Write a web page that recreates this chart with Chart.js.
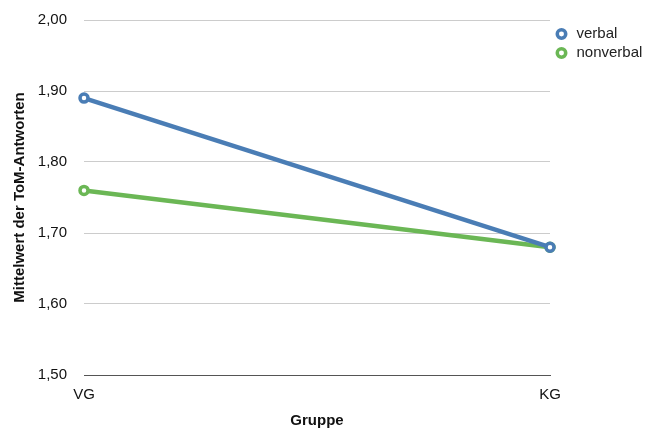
<!DOCTYPE html>
<html>
<head>
<meta charset="utf-8">
<script src="https://cdn.jsdelivr.net/npm/chart.js@4"></script>
<style>
    html, body { margin: 0; padding: 0; background: #ffffff; }
    #wrap { width: 650px; height: 428px; position: relative; }
</style>
</head>
<body>
<div id="wrap"><canvas id="chart"></canvas></div>
<script>
    // ---- data ----
    const groups = ['VG', 'KG'];
    const verbalValues = [1.89, 1.68];
    const nonverbalValues = [1.76, 1.68];
    const yTicks = [1.5, 1.6, 1.7, 1.8, 1.9, 2.0];

    const BLUE = '#4a7db5';
    const GREEN = '#6bb755';

    Chart.defaults.font.family = '"Liberation Sans", Arial, sans-serif';
    Chart.defaults.color = '#111';

    function lineSet(label, values, color) {
        return {
            label: label,
            data: values,
            borderColor: color,
            backgroundColor: '#ffffff',
            borderWidth: 4.5,
            pointRadius: 4,
            pointBorderWidth: 3.5,
            pointBackgroundColor: '#ffffff',
            pointBorderColor: color
        };
    }

    new Chart(document.getElementById('chart'), {
        type: 'line',
        data: {
            labels: groups,
            datasets: [
                lineSet('verbal', verbalValues, BLUE),
                lineSet('nonverbal', nonverbalValues, GREEN)
            ]
        },
        options: {
            responsive: true,
            maintainAspectRatio: false,
            animation: false,
            layout: { padding: { top: 20, right: 0, bottom: 0, left: 11 } },
            plugins: {
                legend: {
                    position: 'right',
                    align: 'start',
                    maxWidth: 100,
                    // empty title only used as a small top spacer
                    title: { display: true, text: '', font: { size: 2.5, lineHeight: 1 }, padding: 0 },
                    labels: {
                        usePointStyle: true,
                        pointStyle: 'circle',
                        boxWidth: 15,
                        boxHeight: 6,
                        padding: 4,
                        font: { size: 15 },
                        color: '#222'
                    }
                },
                tooltip: { enabled: false }
            },
            scales: {
                x: {
                    offset: false,
                    grid: { display: false, drawTicks: false },
                    border: { display: true, color: '#555', width: 1 },
                    ticks: { font: { size: 15 }, padding: 11 },
                    title: {
                        display: true,
                        text: 'Gruppe',
                        font: { size: 15, weight: 'bold', lineHeight: 1 },
                        padding: { top: 9, bottom: 0 }
                    },
                    afterFit: (scale) => { scale.height = 53; }
                },
                y: {
                    min: 1.5,
                    max: 2.0,
                    afterBuildTicks: (axis) => {
                        axis.ticks = yTicks.map(v => ({ value: v }));
                    },
                    grid: { color: '#cccccc', drawTicks: false },
                    border: { display: false },
                    ticks: {
                        font: { size: 15 },
                        padding: 17,
                        callback: (v) => v.toFixed(2).replace('.', ',')
                    },
                    title: {
                        display: true,
                        text: 'Mittelwert der ToM-Antworten',
                        font: { size: 15, weight: 'bold' },
                        padding: { top: 0, bottom: 8 }
                    },
                    afterFit: (scale) => {
                        scale.width = 73;
                        scale.paddingTop = 0;
                        scale.paddingBottom = 0;
                    }
                }
            }
        }
    });
</script>
</body>
</html>
